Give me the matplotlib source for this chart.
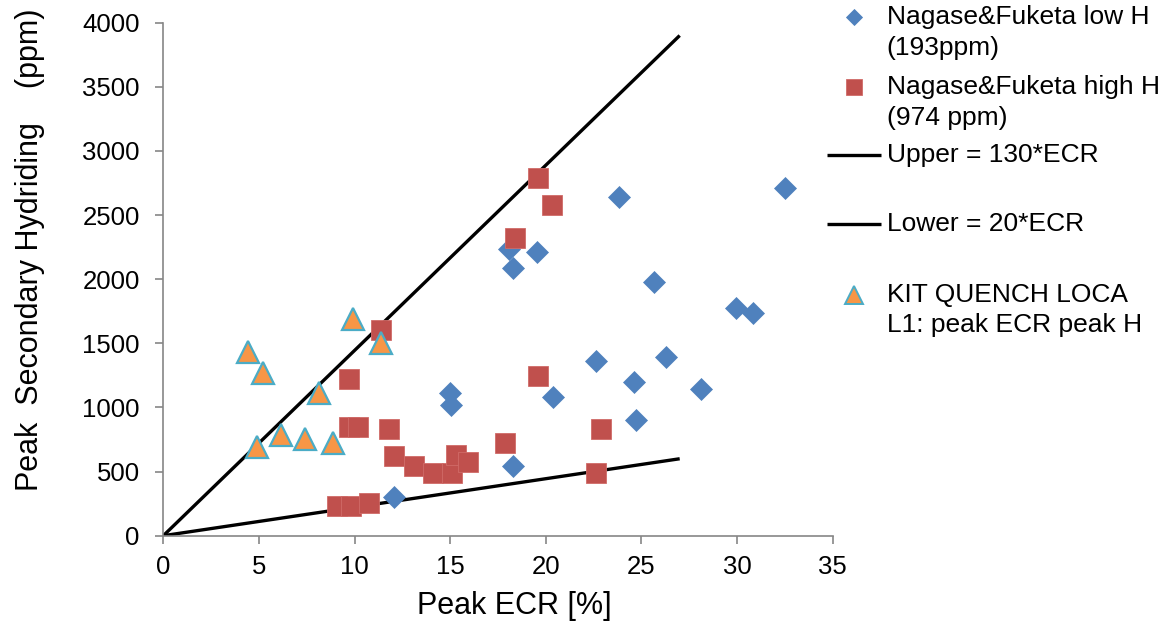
import matplotlib
matplotlib.use("Agg")
import matplotlib.pyplot as plt
from matplotlib.lines import Line2D

plt.rcParams["font.family"] = ["Liberation Sans", "DejaVu Sans"]

# Nagase & Fuketa, low H (193 ppm)
low_ecr = [23.83, 18.05, 19.53, 18.31, 14.99, 15.05, 22.61, 20.40, 18.31, 12.08,
           32.48, 25.66, 29.95, 30.83, 26.29, 24.62, 28.12, 24.72]
low_h = [2638, 2233, 2215, 2085, 1110, 1019, 1365, 1084, 543, 304,
         2709, 1981, 1778, 1734, 1396, 1201, 1146, 902]

# Nagase & Fuketa, high H (974 ppm)
high_ecr = [19.58, 20.31, 18.38, 11.39, 9.71, 19.61, 9.71, 10.17, 11.82, 12.08, 13.13,
            14.12, 15.08, 15.31, 15.95, 17.87, 22.88, 22.61, 9.10, 9.80, 10.77]
high_h = [2787, 2579, 2324, 1604, 1219, 1245, 850, 850, 830, 621, 543,
          486, 486, 629, 577, 725, 830, 486, 232, 232, 257]

# KIT QUENCH LOCA L1
kit_ecr = [4.45, 5.20, 9.90, 11.37, 8.16, 4.88, 6.16, 7.41, 8.89]
kit_h = [1435, 1266, 1690, 1500, 1110, 694, 785, 752, 720]

# Bounding lines
line_ecr = [0, 27]
upper_h = [0, 3900]
lower_h = [0, 600]

labels = ["Nagase&Fuketa low H\n(193ppm)", "Nagase&Fuketa high H\n(974 ppm)",
          "Upper = 130*ECR", "Lower = 20*ECR", "KIT QUENCH LOCA\nL1: peak ECR peak H"]

BLUE = "#4F81BD"
RED = "#C0504D"
ORANGE = "#F79646"
CYAN = "#4BACC6"
GREY = "#868686"

W, H = 1171, 630
fig = plt.figure(figsize=(W / 100, H / 100), dpi=100)
ax = fig.add_axes([163.3 / W, 1 - 535.7 / H, 669.4 / W, 513.0 / H])

ax.plot(line_ecr, upper_h, color="black", lw=2.4, solid_capstyle="butt", zorder=2)
ax.plot(line_ecr, lower_h, color="black", lw=2.4, solid_capstyle="butt", zorder=2)
ax.plot(low_ecr, low_h, ls="none", marker="D", ms=11, mfc=BLUE, mec=BLUE, mew=0.5,
        zorder=3, clip_on=False)
ax.plot(high_ecr, high_h, ls="none", marker="s", ms=14, mfc=RED, mec="#D06B68", mew=0.6,
        zorder=3, clip_on=False)
ax.plot(kit_ecr, kit_h, ls="none", marker="^", ms=15.5, mfc=ORANGE, mec=CYAN, mew=1.6,
        zorder=4, clip_on=False)

ax.set_xlim(0, 35)
ax.set_ylim(0, 4000)
ax.set_xticks(range(0, 36, 5))
ax.set_yticks(range(0, 4001, 500))
for s in ("top", "right"):
    ax.spines[s].set_visible(False)
for s in ("left", "bottom"):
    ax.spines[s].set_color(GREY)
    ax.spines[s].set_linewidth(1.2)
ax.tick_params(axis="both", direction="out", length=5.5, width=1.2, color=GREY,
               labelsize=18.5, labelcolor="black")
ax.tick_params(axis="x", pad=8.5)
ax.tick_params(axis="y", pad=11.5)

ax.set_xlabel("Peak ECR [%]", fontsize=22)
ax.xaxis.set_label_coords(0.525, -0.108)
ax.set_ylabel("Peak  Secondary Hydriding    (ppm)", fontsize=22)
ax.yaxis.set_label_coords(-0.176, 0.558)

# legend drawn by hand to follow the original spacing
def fx(px):
    return px / W

def fy(py):
    return 1 - py / H

mx = 854.3
tx = 886.7
handles = [
    dict(marker="D", ms=8.5, mfc=BLUE, mec=BLUE, y=16.7),
    dict(marker="s", ms=11.5, mfc=RED, mec="#D06B68", y=86.7),
    dict(line=True, y=155),
    dict(line=True, y=224),
    dict(marker="^", ms=12.5, mfc=ORANGE, mec=CYAN, mew=1.4, y=295),
]
text_y = [32.5, 102.5, 155, 224, 310]
for h, lab, ty in zip(handles, labels, text_y):
    if h.get("line"):
        fig.add_artist(Line2D([fx(827.3), fx(881)], [fy(h["y"]), fy(h["y"])],
                              color="black", lw=2.4, solid_capstyle="butt"))
    else:
        fig.add_artist(Line2D([fx(mx)], [fy(h["y"])], ls="none", marker=h["marker"],
                              ms=h["ms"], mfc=h["mfc"], mec=h["mec"], mew=h.get("mew", 0.6)))
    fig.text(fx(tx), fy(ty), lab, fontsize=19, ha="left", va="center", linespacing=1.32)

fig.savefig("out.png", dpi=100)
